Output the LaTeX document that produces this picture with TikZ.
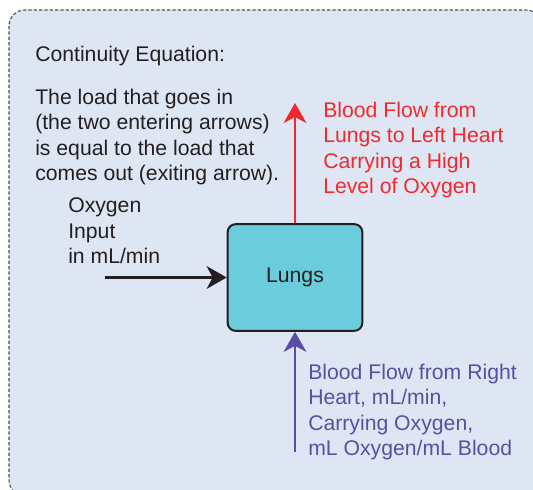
\documentclass[tikz,border=0pt]{standalone}
\usepackage{fontspec}
\setmainfont{Liberation Sans}
\usetikzlibrary{arrows.meta}
\definecolor{panelbg}{HTML}{DFE6F3}
\definecolor{lungfill}{HTML}{6BCCDB}
\definecolor{flowred}{HTML}{EE2A2E}
\definecolor{flowblue}{HTML}{5A4EA2}
\definecolor{inkgray}{HTML}{231F20}
\begin{document}
\begin{tikzpicture}[x=0.75pt, y=-0.75pt,
    every node/.style={font=\fontsize{15.9}{19.1}\selectfont, inner sep=0pt, text=inkgray},
    txt/.style={anchor=north west, align=left},
    flow/.style={line width=2pt, -{Stealth[length=15pt, width=17pt, inset=4.5pt]}}]
    \useasboundingbox (0,0) rectangle (533,490);
    \clip (0,0) rectangle (533,490);
    \draw[fill=panelbg, draw=inkgray!80, line width=0.8pt, dash pattern=on 2.5pt off 1.5pt, rounded corners=12pt] (9,10) rectangle (542,496);
    \node[anchor=base west] (title) at (35,61) {Continuity Equation:};
    \node[txt] (rule) at (35,88.5) {The load that goes in\\(the two entering arrows)\\is equal to the load that\\comes out (exiting arrow).};
    \node[txt] (o2lbl) at (68,197.5) {Oxygen\\Input\\in mL/min};
    \node[draw=inkgray, fill=lungfill, line width=1.5pt, rounded corners=6pt, minimum width=101pt, minimum height=80pt] (lungs) at (295,277.5) {Lungs};
    \node[txt, text=flowred] (outlbl) at (323,101.5) {Blood Flow from\\Lungs to Left Heart\\Carrying a High\\Level of Oxygen};
    \node[txt, text=flowblue] (inlbl) at (308,363.5) {Blood Flow from Right\\Heart, mL/min,\\Carrying Oxygen,\\mL Oxygen/mL Blood};
    \coordinate (o2start) at (105,277.5);
    \coordinate (redtip) at (295,103);
    \coordinate (bluestart) at (295,452);
    \draw[flow, inkgray] (o2start) -- (lungs.west);
    \draw[flow, flowred] (lungs.north) -- (redtip);
    \draw[flow, flowblue] (bluestart) -- (lungs.south);
\end{tikzpicture}
\end{document}
